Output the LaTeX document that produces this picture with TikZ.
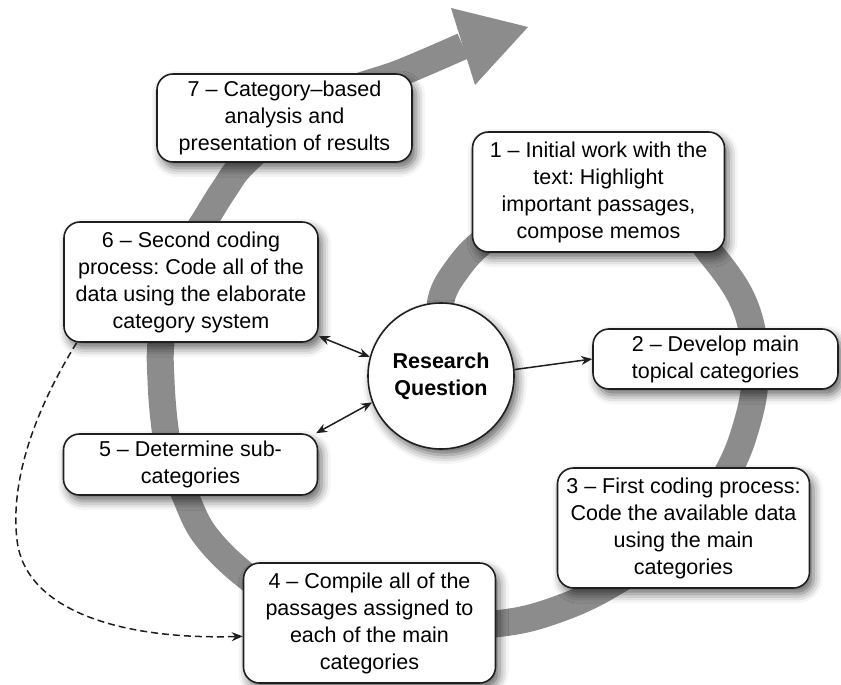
\documentclass[tikz,border=0pt]{standalone}
\usepackage{fontspec}
\setmainfont{Liberation Sans}
\frenchspacing
\usetikzlibrary{arrows.meta,shadows.blur}
\definecolor{pBand}{gray}{0.55}
\definecolor{pLine}{gray}{0.12}
\tikzset{
    stage/.style={rectangle, rounded corners=16pt, draw=pLine, line width=1.6pt, fill=white, align=center, minimum width=252pt, inner sep=4pt, font=\fontsize{21.5}{27}\selectfont, blur shadow={shadow xshift=4pt, shadow yshift=-6pt, shadow blur radius=9pt, shadow opacity=60}},
    hub/.style={circle, draw=pLine, line width=1.6pt, fill=white, align=center, minimum size=146pt, inner sep=0pt, font=\fontsize{21.5}{27}\selectfont\bfseries, blur shadow={shadow xshift=4pt, shadow yshift=-6pt, shadow blur radius=9pt, shadow opacity=60}},
    band/.style={line width=27pt, pBand},
    link/.style={line width=1.5pt, pLine}
}

\begin{document}
\begin{tikzpicture}[x=1pt,y=-1pt,>={Stealth[length=11pt,width=9pt]}]
\useasboundingbox (0,0) rectangle (841,685);
% spiral
\draw[band] plot[smooth, tension=0.6] coordinates {
    (441,345) (441,300) (458,268) (485,240) (540,205) (610,200) (680,222)
    (712,255) (740,295) (753,335) (755,380) (748,420) (730,468) (690,530)
    (610,585) (550,612) (495,624) (400,630) (300,610) (245,575) (205,535)
    (185,495) (170,455) (164,420) (161,380) (161,342) (170,290) (190,245)
    (205,220) (225,188) (245,162) (300,115) (350,90) (400,73) (463,46)};
\fill[pBand] (451,8) -- (528,27) -- (475,85) -- cycle;
% stages
\node[hub] (rq) at (441,376) {Research\\Question};
\node[stage, minimum height=120pt] (s1) at (598.5,192) {1 -- Initial work with the\\text: Highlight\\important passages,\\compose memos};
\node[stage, minimum height=60pt, minimum width=245pt] (s2) at (715.5,359) {2 -- Develop main\\topical categories};
\node[stage, minimum height=120pt] (s3) at (683.5,528) {3 -- First coding process:\\Code the available data\\using the main\\categories};
\node[stage, minimum height=120pt] (s4) at (369.5,623) {4 -- Compile all of the\\passages assigned to\\each of the main\\categories};
\node[stage, minimum height=61pt, minimum width=254pt] (s5) at (190.5,464.5) {5 -- Determine sub-\\categories};
\node[stage, minimum height=120pt, minimum width=254pt] (s6) at (191,282) {6 -- Second coding\\process: Code all of the\\data using the elaborate\\category system};
\node[stage, minimum height=88pt, minimum width=255pt] (s7) at (284.5,118) {7 -- Category--based\\analysis and\\presentation of results};
% links
\draw[link,->] (rq.5) -- (s2.west);
\draw[link,<->] (s6.-23) -- (rq.165);
\draw[link,<->] (s5.14) -- (rq.201);
\draw[link,->,dash pattern=on 7pt off 4pt] (s6.208) .. controls (35,410) and (10,480) .. (17,540)
    .. controls (25,610) and (120,640) .. (s4.186);
\end{tikzpicture}
\end{document}
